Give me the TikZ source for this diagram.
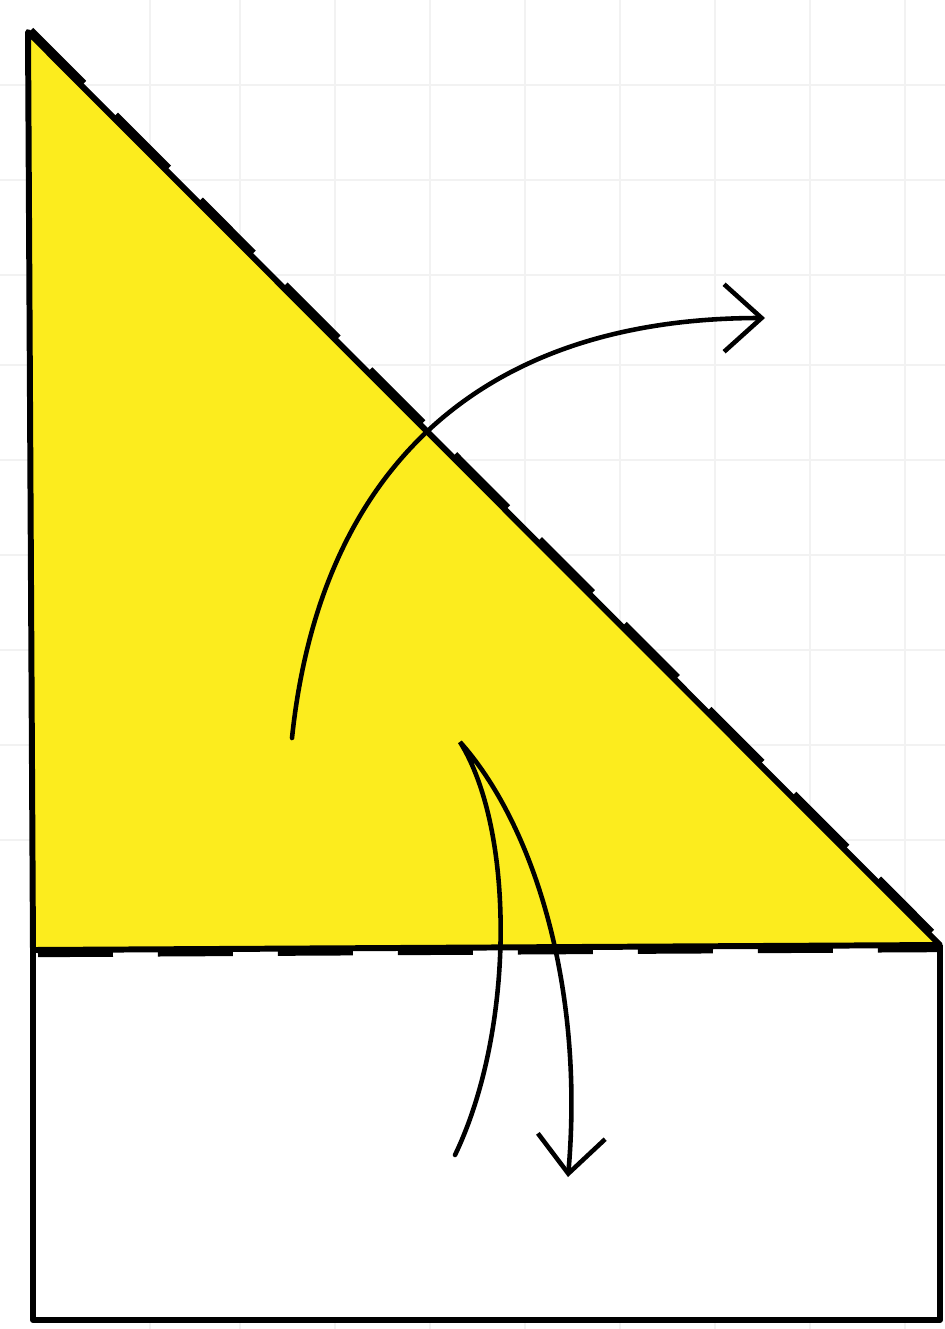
\documentclass[tikz,border=0pt]{standalone}
\usepackage{tikz}
\usetikzlibrary{arrows,arrows.meta}
\definecolor{paper}{RGB}{252,236,30}
\tikzstyle{edge}=[line width=3.4pt, line join=round]
\tikzstyle{fold}=[line width=3.6pt, dash pattern=on 1.5cm off 0.9cm]
\tikzstyle{turn}=[line width=2.6pt, line cap=round, -{Straight Barb[length=0.75cm, width=1.35cm, line width=2.6pt]}]
\tikzstyle{gridline}=[black!5, line width=0.6pt]
\newcommand{\point}{\coordinate}

\begin{document}
\begin{tikzpicture}[x=0.02cm, y=-0.02cm]
\useasboundingbox (0,0) rectangle (945,1329);

% faint squared paper
\foreach \x in {150,240,335,430,525,620,715,810,905}
    \draw[gridline] (\x,0) -- (\x,1329);
\foreach \y in {85,180,275,365,460,555,650,745,840}
    \draw[gridline] (0,\y) -- (945,\y);

\point (top) at (28,32);
    \point (bl) at (33,950);
    \point (br) at (940,945);
    \point (rbl) at (33,1320);
    \point (rbr) at (940,1320);
    \point (a1) at (292,738);
    \point (a2) at (765,318);
    \point (b1) at (455,1155);
    \point (b2) at (460,742);
    \point (b3) at (568,1177);
    ;

% lower part
\fill[white] (bl) -- (br) -- (rbr) -- (rbl) -- cycle;
\draw[edge] (br) -- (rbr) -- (rbl) -- (bl);

% yellow triangle
\fill[paper] (top) -- (bl) -- (br) -- cycle;
\draw[edge] (top) -- (bl) -- (br) -- cycle;
\draw[fold] ([shift={(3,-2)}]top) -- ([shift={(3,-2)}]br);
\draw[fold] ([shift={(5,4)}]bl) -- ([shift={(0,4)}]br);

% fold arrows
\draw[turn] (a1) .. controls (320,470) and (480,318) .. (a2);
\draw[turn] (b1) .. controls (515,1030) and (515,830) .. (b2)
    .. controls (530,820) and (585,980) .. (b3);
\end{tikzpicture}
\end{document}
